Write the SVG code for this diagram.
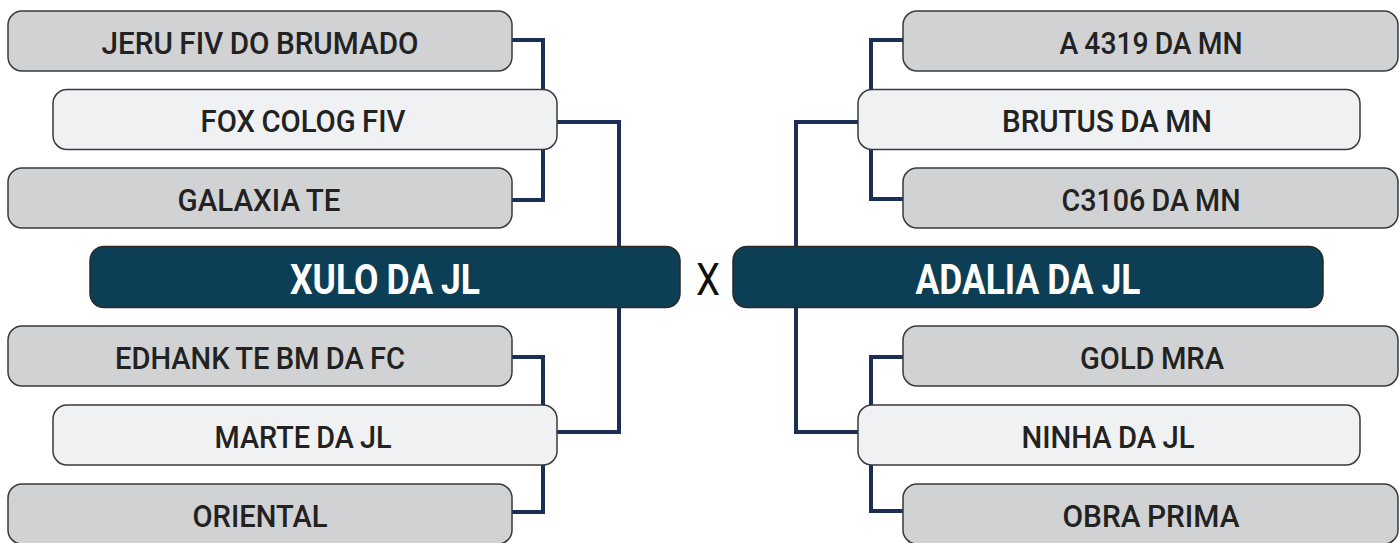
<svg xmlns="http://www.w3.org/2000/svg" width="1400" height="543" viewBox="0 0 1400 543">
  <style>
    .gray { fill: #d1d2d4; stroke: #3a3a3a; stroke-width: 1.5; }
    .light { fill: #f0f1f3; stroke: #3a3a3a; stroke-width: 1.5; }
    .dark { fill: #0c3f56; stroke: #2a2a2a; stroke-width: 1.5; }
    .lbl { font-family: Roboto, "Liberation Sans", sans-serif; font-weight: 500; font-size: 31px; word-spacing: -1px; fill: #222222; text-anchor: middle; }
    .big { font-family: Roboto, "Liberation Sans", sans-serif; font-weight: 700; font-size: 43px; word-spacing: -1px; fill: #ffffff; text-anchor: middle; }
    .vs { font-family: Roboto, "Liberation Sans", sans-serif; font-weight: 400; font-size: 45px; fill: #111111; text-anchor: middle; }
    .conn { fill: none; stroke: #1b2f56; stroke-width: 4; stroke-linejoin: miter; stroke-linecap: butt; }
  </style>
  <rect x="0" y="0" width="1400" height="543" fill="#ffffff"/>

  <g id="connectors">
    <path class="conn" d="M510 40 H543 V200 H510"/>
    <path class="conn" d="M555 122 H619 V432 H555"/>
    <path class="conn" d="M510 357 H543 V512 H510"/>
    <path class="conn" d="M905 40 H871 V199 H905"/>
    <path class="conn" d="M860 122 H796 V432 H860"/>
    <path class="conn" d="M905 357 H871 V511 H905"/>
  </g>

  <g id="jeru">
    <rect class="gray" x="8" y="11" width="504" height="60" rx="14"/>
    <text class="lbl" x="260" y="53.5" textLength="317" lengthAdjust="spacingAndGlyphs">JERU FIV DO BRUMADO</text>
  </g>
  <g id="fox">
    <rect class="light" x="53" y="89.5" width="504" height="60" rx="14"/>
    <text class="lbl" x="303" y="132" textLength="205" lengthAdjust="spacingAndGlyphs">FOX COLOG FIV</text>
  </g>
  <g id="galaxia">
    <rect class="gray" x="8" y="168" width="504" height="60" rx="14"/>
    <text class="lbl" x="259" y="210.5" textLength="163" lengthAdjust="spacingAndGlyphs">GALAXIA TE</text>
  </g>
  <g id="xulo">
    <rect class="dark" x="90" y="246.5" width="590" height="61" rx="14"/>
    <text class="big" x="385" y="294" textLength="190" lengthAdjust="spacingAndGlyphs">XULO DA JL</text>
  </g>
  <g id="edhank">
    <rect class="gray" x="8" y="326" width="504" height="60" rx="14"/>
    <text class="lbl" x="260" y="368.5" textLength="290" lengthAdjust="spacingAndGlyphs">EDHANK TE BM DA FC</text>
  </g>
  <g id="marte">
    <rect class="light" x="53" y="405" width="504" height="60" rx="14"/>
    <text class="lbl" x="303" y="447.5" textLength="177" lengthAdjust="spacingAndGlyphs">MARTE DA JL</text>
  </g>
  <g id="oriental">
    <rect class="gray" x="8" y="484" width="504" height="60" rx="14"/>
    <text class="lbl" x="260" y="526.5" textLength="135" lengthAdjust="spacingAndGlyphs">ORIENTAL</text>
  </g>

  <g id="versus">
    <text class="vs" x="708" y="295" textLength="24" lengthAdjust="spacingAndGlyphs">X</text>
  </g>

  <g id="a4319">
    <rect class="gray" x="903" y="11" width="495" height="60" rx="14"/>
    <text class="lbl" x="1151" y="53.5" textLength="183" lengthAdjust="spacingAndGlyphs">A 4319 DA MN</text>
  </g>
  <g id="brutus">
    <rect class="light" x="858" y="89.5" width="502" height="60" rx="14"/>
    <text class="lbl" x="1107" y="132" textLength="210" lengthAdjust="spacingAndGlyphs">BRUTUS DA MN</text>
  </g>
  <g id="c3106">
    <rect class="gray" x="903" y="168" width="495" height="60" rx="14"/>
    <text class="lbl" x="1151" y="210.5" textLength="179" lengthAdjust="spacingAndGlyphs">C3106 DA MN</text>
  </g>
  <g id="adalia">
    <rect class="dark" x="733" y="246.5" width="590" height="61" rx="14"/>
    <text class="big" x="1028" y="294" textLength="225" lengthAdjust="spacingAndGlyphs">ADALIA DA JL</text>
  </g>
  <g id="gold">
    <rect class="gray" x="903" y="326" width="495" height="60" rx="14"/>
    <text class="lbl" x="1152" y="368.5" textLength="144" lengthAdjust="spacingAndGlyphs">GOLD MRA</text>
  </g>
  <g id="ninha">
    <rect class="light" x="858" y="405" width="502" height="60" rx="14"/>
    <text class="lbl" x="1108" y="447.5" textLength="173" lengthAdjust="spacingAndGlyphs">NINHA DA JL</text>
  </g>
  <g id="obra">
    <rect class="gray" x="903" y="484" width="495" height="60" rx="14"/>
    <text class="lbl" x="1151" y="526.5" textLength="177" lengthAdjust="spacingAndGlyphs">OBRA PRIMA</text>
  </g>
</svg>
